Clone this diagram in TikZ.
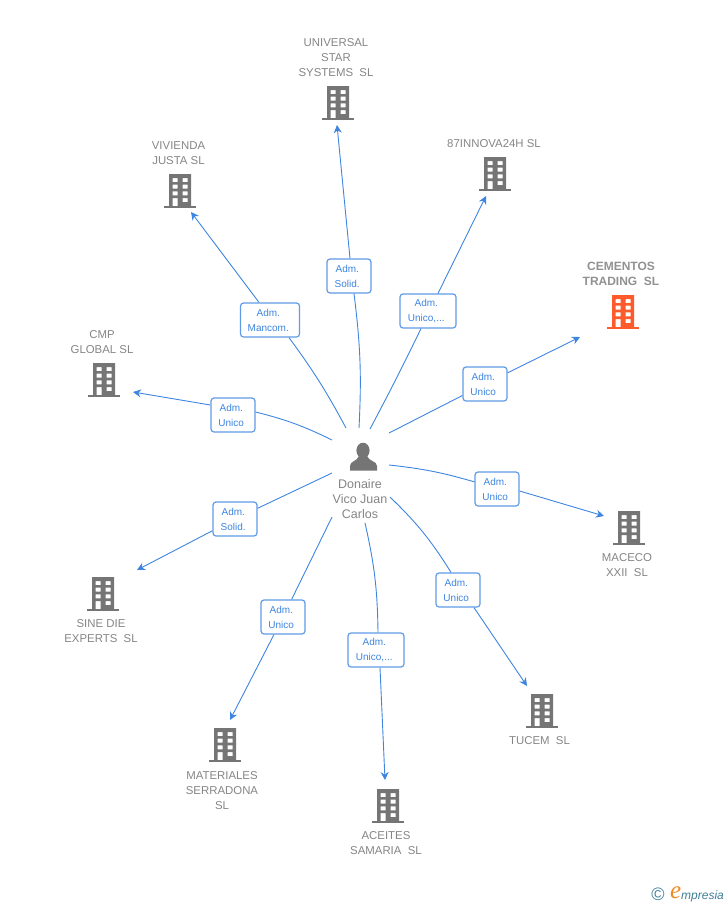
\documentclass[tikz,border=0pt]{standalone}
\usepackage{fontspec}
\setmainfont{Liberation Sans}
\newfontfamily\logofont{Liberation Serif}
\usetikzlibrary{arrows.meta}
\definecolor{linkblue}{HTML}{3D85E0}
\definecolor{boxblue}{HTML}{609BE6}
\definecolor{bldgray}{HTML}{757575}
\definecolor{txtgray}{HTML}{858585}
\definecolor{bldred}{HTML}{FF5A2B}
\definecolor{logoteal}{HTML}{3E7F96}
\definecolor{logoorange}{HTML}{F08A24}
\newcommand{\admlabel}[1]{Adm.\hspace*{3.5pt}\\#1\hspace*{3.5pt}}
\tikzset{
	tower/.pic = {
		\fill[pic actions] (-16,17) rectangle (16,14.5);
		\fill[pic actions, even odd rule] (-11,-17) rectangle (11,15)
			(-7.5,-13) rectangle (-2.5,-9) (2.5,-13) rectangle (7.5,-9)
			(-7.5,-6.3) rectangle (-2.5,-2.3) (2.5,-6.3) rectangle (7.5,-2.3)
			(-7.5,0.3) rectangle (-2.5,4.3) (2.5,0.3) rectangle (7.5,4.3)
			(-7.5,7) rectangle (-2.5,15) (2.5,7) rectangle (7.5,11);
	}
}
\begin{document}
\begin{tikzpicture}[x=1pt, y=-1pt,
	main/.style = {font=\fontsize{11.4}{15}\selectfont, text=txtgray, align=center, inner sep=0pt},
	lab/.style = {draw=boxblue, rounded corners=3pt, fill=white, line width=1.2pt, text=linkblue, align=center,
		font=\fontsize{10}{15}\selectfont, inner sep=0pt, minimum height=34pt},
	link/.style = {draw=linkblue, line width=0.9pt},
	arrow/.style = {link, -{Stealth[length=8pt,width=8pt]}}]
	\useasboundingbox (0,0) rectangle (728,905);
	% companies
	\node[main] (n1) at (336,57.5) {UNIVERSAL\\STAR\\SYSTEMS\ \ SL};
	\node[main] (n2) at (494,143.5) {87INNOVA24H SL};
	\node[main, font=\bfseries\fontsize{12}{15}\selectfont, text=txtgray!90] (n3) at (621,273.5) {CEMENTOS\\TRADING\ \ SL};
	\node[main] (n4) at (178.5,153) {VIVIENDA\\JUSTA SL};
	\node[main] (n5) at (102,342) {CMP\\GLOBAL SL};
	\node[main] (n6) at (101,631.5) {SINE DIE\\EXPERTS\ \ SL};
	\node[main] (n7) at (222,790.5) {MATERIALES\\SERRADONA\\SL};
	\node[main] (n8) at (386,843) {ACEITES\\SAMARIA\ \ SL};
	\node[main] (n9) at (539.5,740.5) {TUCEM\ \ SL};
	\node[main] (n10) at (627,565) {MACECO\\XXII\ \ SL};
	\pic[fill=bldgray] at (338,103) {tower};
	\pic[fill=bldgray] at (495,174) {tower};
	\pic[fill=bldred] at (623,312) {tower};
	\pic[fill=bldgray] at (180,191) {tower};
	\pic[fill=bldgray] at (104,380) {tower};
	\pic[fill=bldgray] at (103,594) {tower};
	\pic[fill=bldgray] at (225,745) {tower};
	\pic[fill=bldgray] at (388,806) {tower};
	\pic[fill=bldgray] at (542,711) {tower};
	\pic[fill=bldgray] at (629,528) {tower};
	% person
	\fill[bldgray] (363,450.5) ellipse (6.6 and 7.8);
	\fill[bldgray] (350,470.5) -- (350,466) .. controls (350,461) and (357,461.5) .. (359,456) -- (367,456)
		.. controls (369,461.5) and (377,461) .. (377,466) -- (377,470.5) -- cycle;
	\node[main, font=\fontsize{12.5}{15}\selectfont] (pers) at (360,499) {Donaire\\Vico Juan\\Carlos};
	% labels
	\node[lab, minimum width=44pt] (l1) at (349,276) {\admlabel{Solid.}};
	\node[lab, minimum width=56pt] (l2) at (428,311) {\admlabel{Unico,...}};
	\node[lab, minimum width=44pt] (l3) at (485,384) {\admlabel{Unico}};
	\node[lab, minimum width=59pt] (l4) at (270,320) {\admlabel{Mancom.}};
	\node[lab, minimum width=44pt] (l5) at (233,415) {\admlabel{Unico}};
	\node[lab, minimum width=44pt] (l6) at (235,519) {\admlabel{Solid.}};
	\node[lab, minimum width=44pt] (l7) at (283,617) {\admlabel{Unico}};
	\node[lab, minimum width=56pt] (l8) at (376,650) {\admlabel{Unico,...}};
	\node[lab, minimum width=44pt] (l9) at (458,590) {\admlabel{Unico}};
	\node[lab, minimum width=44pt] (l10) at (497,489) {\admlabel{Unico}};
	% free ends
	\coordinate (s1) at (359,428); \coordinate (e1) at (337,125);
	\coordinate (s2) at (370,429); \coordinate (e2) at (486,196);
	\coordinate (s3) at (389,433); \coordinate (e3) at (580,337);
	\coordinate (s4) at (346,428); \coordinate (e4) at (191,212);
	\coordinate (s5) at (332,440); \coordinate (e5) at (133,392);
	\coordinate (s6) at (332,473); \coordinate (e6) at (137,570);
	\coordinate (s7) at (332,517); \coordinate (e7) at (230,720);
	\coordinate (s8) at (365,523); \coordinate (e8) at (385,780);
	\coordinate (s9) at (390,497); \coordinate (e9) at (527,686);
	\coordinate (s10) at (389,465); \coordinate (e10) at (604,516);
	% connectors
	\draw[link] (s1) to[bend right=5] ([xshift=5pt]l1.south);
	\draw[arrow] ([xshift=1pt]l1.north) to (e1);
	\draw[link] (s2) to[bend right=1] ([xshift=-7pt]l2.south);
	\draw[arrow] ([xshift=10pt]l2.north) to (e2);
	\draw[link] (s3) to (l3);
	\draw[arrow] (l3) to (e3);
	\draw[link] (s4) to[bend right=4] ([xshift=19pt]l4.south);
	\draw[arrow] ([xshift=-11pt]l4.north) to (e4);
	\draw[link] (s5) to[bend right=6] ([yshift=3pt]l5.east);
	\draw[arrow] ([yshift=10pt]l5.west) to (e5);
	\draw[link] (s6) to (l6);
	\draw[arrow] (l6) to (e6);
	\draw[link] (s7) to (l7);
	\draw[arrow] (l7) to (e7);
	\draw[link] (s8) to[bend left=6] ([xshift=2pt]l8.north);
	\draw[arrow] ([xshift=4pt]l8.south) to (e8);
	\draw[link] (s9) to[bend left=7] ([xshift=-7pt]l9.north);
	\draw[arrow] ([xshift=16pt]l9.south) to (e9);
	\draw[link] (s10) to[bend left=5] (l10);
	\draw[arrow] ([yshift=-2pt]l10.east) to (e10);
	% logo
	\node[inner sep=0pt, text=logoteal, font=\fontsize{18}{18}\selectfont] (copy) at (658,894) {©};
	\node[inner sep=0pt, anchor=base west, text=logoorange, font=\logofont\itshape\fontsize{25}{25}\selectfont] (elogo) at (670,898.5) {e};
	\node[inner sep=0pt, anchor=base west, text=logoteal, font=\itshape\fontsize{12}{12}\selectfont] (word) at (681,899) {mpresia};
\end{tikzpicture}
\end{document}
